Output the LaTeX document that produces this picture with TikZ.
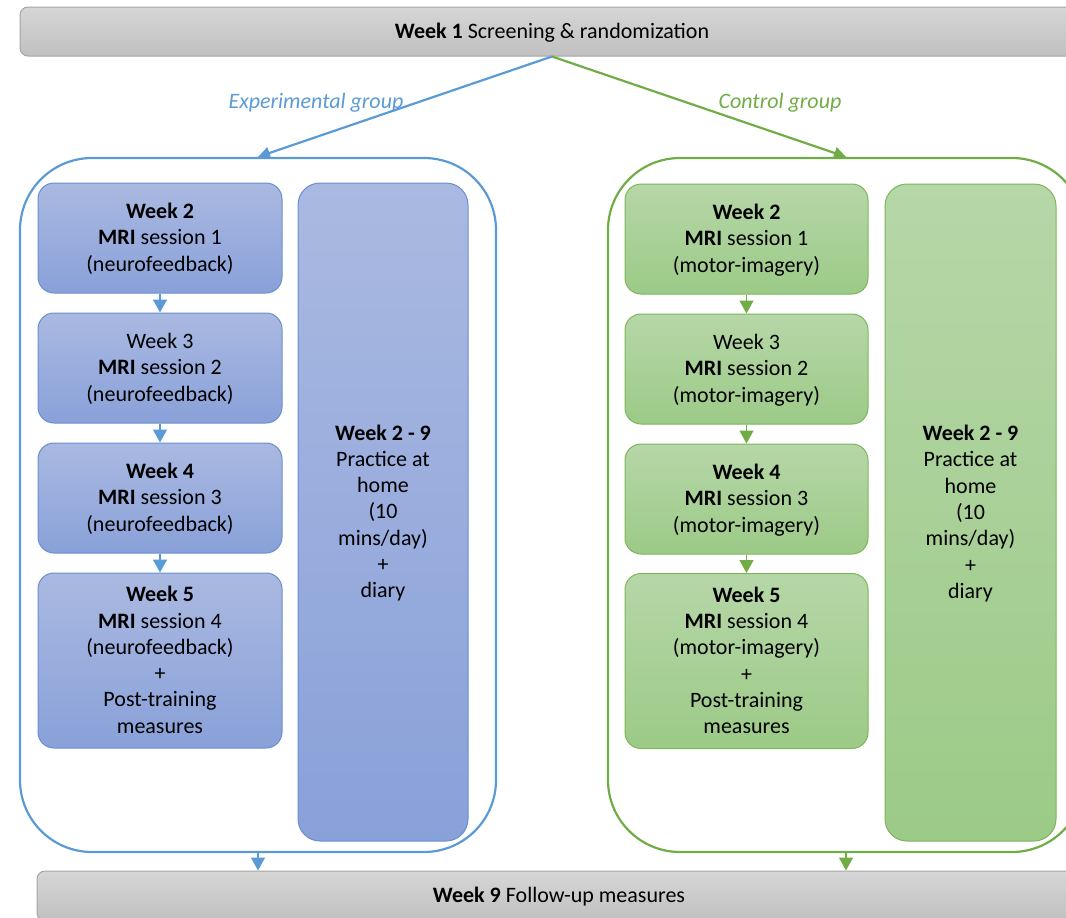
\documentclass[tikz,border=0pt]{standalone}
\usepackage{fontspec}
\setmainfont{Carlito}
\usetikzlibrary{arrows.meta}
\definecolor{bluebd}{HTML}{4472C4}
\definecolor{bluetop}{HTML}{AAB9E1}
\definecolor{bluebot}{HTML}{89A1D9}
\definecolor{bluecont}{HTML}{5B9BD5}
\definecolor{greenbd}{HTML}{70AD47}
\definecolor{greentop}{HTML}{B6D7A8}
\definecolor{greenbot}{HTML}{9CCA87}
\definecolor{graytop}{HTML}{D6D6D6}
\definecolor{graybot}{HTML}{C0C0C0}
\definecolor{graybd}{HTML}{A5A5A5}
\tikzset{
  txt/.style={align=center, font=\fontsize{22}{26.3}\selectfont, inner sep=0pt, text depth=1.5pt},
  bbox/.style={txt, draw=bluebd!80, line width=1pt, rounded corners=16pt, top color=bluetop, bottom color=bluebot},
  gbox/.style={txt, draw=greenbd!90, line width=1pt, rounded corners=16pt, top color=greentop, bottom color=greenbot},
  bar/.style={txt, draw=graybd, line width=1pt, rounded corners=8pt, top color=graytop, bottom color=graybot},
  lcont/.style={draw=bluecont, line width=2.2pt, rounded corners=72pt, inner sep=0pt},
  rcont/.style={draw=greenbd, line width=2.2pt, rounded corners=72pt, inner sep=0pt},
  bigarrow/.style={line width=2.2pt, -{Triangle[length=12pt,width=12pt]}},
  smallarrow/.style={line width=1.5pt, -{Triangle[length=13pt,width=14pt]}},
  grplabel/.style={font=\fontsize{22}{26}\selectfont\itshape, inner sep=0pt},
}
\begin{document}
\begin{tikzpicture}[x=1pt,y=-1pt]
\useasboundingbox (0,0) rectangle (1066,918);
\clip (0,0) rectangle (1066,918);
% bars
\node[bar, minimum width=1064pt, minimum height=49pt] (top) at (552,31.5) {\textbf{Week 1} Screening \& randomization};
\node[bar, minimum width=1044pt, minimum height=50pt] (bot) at (559,896) {\textbf{Week 9} Follow-up measures};
% containers
\node[lcont, minimum width=476pt, minimum height=694pt] (lc) at (258,505) {};
\node[rcont, minimum width=476pt, minimum height=694pt] (rc) at (846,505) {};
% group arrows
\draw[bluecont, bigarrow] (top.south) -- (lc.north);
\draw[greenbd, bigarrow] (top.south) -- (rc.north);
\node[grplabel, text=bluecont] (lg) at (316,103) {Experimental group};
\node[grplabel, text=greenbd] (cg) at (780,103) {Control group};
% left boxes
\node[bbox, minimum width=244pt, minimum height=110pt] (l1) at (160,238) {\textbf{Week 2}\\\textbf{MRI} session 1\\(neurofeedback)};
\node[bbox, minimum width=244pt, minimum height=110pt] (l2) at (160,368) {Week 3\\\textbf{MRI} session 2\\(neurofeedback)};
\node[bbox, minimum width=244pt, minimum height=110pt] (l3) at (160,498) {\textbf{Week 4}\\\textbf{MRI} session 3\\(neurofeedback)};
\node[bbox, minimum width=244pt, minimum height=175pt] (l4) at (160,660.5) {\textbf{Week 5}\\\textbf{MRI} session 4\\(neurofeedback)\\+\\Post-training\\measures};
\node[bbox, rounded corners=22pt, minimum width=170pt, minimum height=658pt] (lt) at (383,512) {\textbf{Week 2 - 9}\\Practice at\\home\\(10\\mins/day)\\+\\diary};
\draw[bluecont, smallarrow] (l1) -- (l2);
\draw[bluecont, smallarrow] (l2) -- (l3);
\draw[bluecont, smallarrow] (l3) -- (l4);
% right boxes
\node[gbox, minimum width=243pt, minimum height=110pt] (r1) at (746.5,239) {\textbf{Week 2}\\\textbf{MRI} session 1\\(motor-imagery)};
\node[gbox, minimum width=243pt, minimum height=110pt] (r2) at (746.5,369) {Week 3\\\textbf{MRI} session 2\\(motor-imagery)};
\node[gbox, minimum width=243pt, minimum height=110pt] (r3) at (746.5,499) {\textbf{Week 4}\\\textbf{MRI} session 3\\(motor-imagery)};
\node[gbox, minimum width=243pt, minimum height=175pt] (r4) at (746.5,661) {\textbf{Week 5}\\\textbf{MRI} session 4\\(motor-imagery)\\+\\Post-training\\measures};
\node[gbox, rounded corners=22pt, minimum width=171pt, minimum height=657pt] (rt) at (970.5,512.5) {\textbf{Week 2 - 9}\\Practice at\\home\\(10\\mins/day)\\+\\diary};
\draw[greenbd, smallarrow] (r1) -- (r2);
\draw[greenbd, smallarrow] (r2) -- (r3);
\draw[greenbd, smallarrow] (r3) -- (r4);
% to follow-up
\draw[bluecont, smallarrow] (lc.south) -- (lc.south |- bot.north);
\draw[greenbd, smallarrow] (rc.south) -- (rc.south |- bot.north);
\end{tikzpicture}
\end{document}
